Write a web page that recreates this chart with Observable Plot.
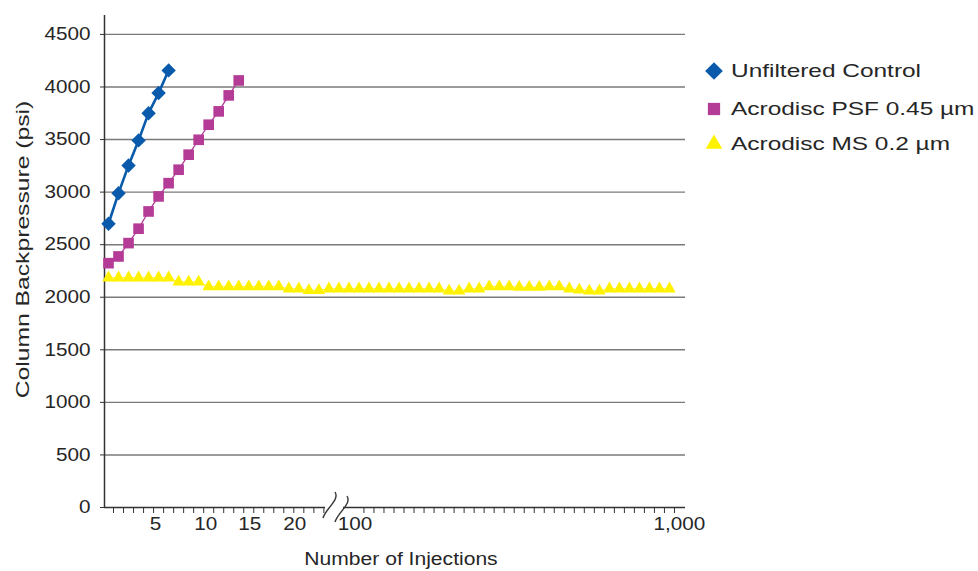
<!DOCTYPE html>
<html><head><meta charset="utf-8">
<script src="https://cdn.jsdelivr.net/npm/d3@7"></script>
<script src="https://cdn.jsdelivr.net/npm/@observablehq/plot@0.6"></script>
<style>
html,body{margin:0;padding:0;background:#fff;}
#wrap{position:relative;width:978px;height:571px;font-family:"Liberation Sans",Arial,Helvetica,sans-serif;color:#262626;}
.item{position:absolute;left:700px;height:28px;display:flex;align-items:center;}
.item svg{width:28px;height:28px;display:block;}
.item span{position:absolute;left:31px;top:50%;transform:translateY(-50%) scaleX(1.32);transform-origin:left center;white-space:nowrap;font-size:18.5px;line-height:1;}
</style></head><body><div id="wrap"></div>
<script>
// ---- data ----
const seriesNames = ["Unfiltered Control", "Acrodisc PSF 0.45 µm", "Acrodisc MS 0.2 µm"];
const seriesColors = ["#0a5aab", "#b43c96", "#fff200"];
const unfiltered = [2699, 2990, 3254, 3492, 3751, 3942, 4158];
const psf = [2324, 2388, 2515, 2652, 2816, 2959, 3085, 3213, 3356, 3498, 3641, 3768, 3920, 4062];
const ms = [2185, 2185, 2185, 2185, 2185, 2185, 2185,
  2145, 2145, 2145,
  2100, 2100, 2100, 2100, 2100, 2100, 2100, 2100,
  2080, 2080,
  2065, 2065,
  2080, 2080, 2080, 2080, 2080, 2080, 2080, 2080, 2080, 2080, 2080, 2080,
  2060, 2060,
  2080, 2080,
  2100, 2100, 2100,
  2095, 2095, 2095,
  2100, 2100,
  2080,
  2070,
  2060, 2060,
  2080, 2080, 2080, 2080, 2080, 2080, 2080];
const yTicks = [0, 500, 1000, 1500, 2000, 2500, 3000, 3500, 4000, 4500];
const xTickLabels = ["5", "10", "15", "20", "100", "1,000"];
const xTickLabelPos = [5.7, 10.7, 15.1, 19.6, 25.6, 58];
const breakPos = 23.66;
const breakSpan = [23, 26];
const xDomain = [0.6, 58.6];
const yDomain = [0, 4680];
const yTitle = "Column Backpressure (psi)";
const xTitle = "Number of Injections";

// ---- derived tables ----
const toRows = arr => arr.map((v, k) => ({i: k + 1, v}));
const blueRows = toRows(unfiltered), pinkRows = toRows(psf), yellowRows = toRows(ms);
const xMinorTicks = d3.range(1.5, 58, 1).filter(t => t < breakSpan[0] || t > breakSpan[1]);
const labelMap = new Map(xTickLabelPos.map((p, k) => [p, xTickLabels[k]]));

function breakMark(index, scales) {
  const cx = scales.x(breakPos), cy = scales.y(0);
  const g = d3.create("svg:g");
  g.append("rect").attr("x", cx - 10).attr("y", cy - 3).attr("width", 18).attr("height", 6).attr("fill", "#fff");
  [[0, 0], [12, 4]].forEach(([ox, oy]) => {
    const x0 = cx + ox, y0 = cy - 15 + oy;
    g.append("path")
      .attr("d", `M${x0},${y0} C${x0 + 5},${y0 + 8} ${x0 - 9},${y0 + 16} ${x0 - 12},${y0 + 26}`)
      .attr("fill", "none").attr("stroke", "#333").attr("stroke-width", 1.4);
  });
  return g.node();
}

const chart = Plot.plot({
  width: 978, height: 571,
  marginLeft: 104, marginRight: 293, marginTop: 15, marginBottom: 64,
  style: {fontFamily: "'Liberation Sans', Arial, Helvetica, sans-serif", color: "#262626", background: "#fff"},
  x: {domain: xDomain, axis: null},
  y: {domain: yDomain, axis: null},
  marks: [
    Plot.ruleY(yTicks.filter(d => d > 0), {stroke: "#7a7a7a", strokeWidth: 1.4}),
    Plot.axisY({ticks: yTicks, tickSize: 4, tickPadding: 10, fontSize: 18, label: null, stroke: "#333", tickFormat: d => String(d)}),
    Plot.ruleX([xDomain[0]], {stroke: "#333", strokeWidth: 1.5}),
    Plot.ruleY([0], {stroke: "#333", strokeWidth: 1.5}),
    Plot.axisX({ticks: xMinorTicks, tickSize: 6, tickFormat: () => "", label: null, stroke: "#333"}),
    Plot.axisX({ticks: xTickLabelPos, tickSize: 0, tickPadding: 10, fontSize: 18, label: null, tickFormat: d => labelMap.get(d)}),
    breakMark,
    Plot.line(yellowRows, {x: "i", y: "v", stroke: seriesColors[2], strokeWidth: 1}),
    Plot.dot(yellowRows, {x: "i", y: "v", symbol: "triangle", r: 4.65, fill: seriesColors[2], stroke: "none"}),
    Plot.line(pinkRows, {x: "i", y: "v", stroke: seriesColors[1], strokeWidth: 1.3}),
    Plot.dot(pinkRows, {x: "i", y: "v", symbol: "square", r: 6, fill: seriesColors[1], stroke: "none"}),
    Plot.line(blueRows, {x: "i", y: "v", stroke: seriesColors[0], strokeWidth: 2.6}),
    Plot.dot(blueRows, {x: "i", y: "v", symbol: "diamond2", r: 6.5, fill: seriesColors[0], stroke: "none"}),
    Plot.text([yTitle], {frameAnchor: "left", textAnchor: "middle", rotate: -90, dx: -82, dy: -12, fontSize: 19, fill: "#262626"}),
    Plot.text([xTitle], {frameAnchor: "bottom", textAnchor: "middle", dx: 6, dy: 57, fontSize: 18.5, fill: "#262626"})
  ]
});

function stretch(nodes, s) {
  nodes.forEach(t => {
    const tr = t.getAttribute("transform");
    if (tr) t.setAttribute("transform", tr + ` scale(${s},1)`);
    else {
      const x = +t.getAttribute("x") || 0, y = +t.getAttribute("y") || 0;
      t.removeAttribute("x"); t.removeAttribute("y");
      t.setAttribute("transform", `translate(${x},${y}) scale(${s},1)`);
    }
  });
}
const texts = Array.from(chart.querySelectorAll("text"));
stretch(texts.filter(t => t.textContent === yTitle), 1.3);
stretch(texts.filter(t => t.textContent === xTitle), 1.14);
stretch(texts.filter(t => t.textContent !== yTitle && t.textContent !== xTitle && t.textContent !== ""), 1.15);

const wrap = document.getElementById("wrap");
wrap.appendChild(chart);

// ---- legend ----
const legendSymbols = [d3.symbol(d3.symbolDiamond2, 200), d3.symbol(d3.symbolSquare, 150), d3.symbol(d3.symbolTriangle, 120)];
const legendCenters = [71, 109, 144];
seriesNames.forEach((name, k) => {
  const item = d3.select(wrap).append("div").attr("class", "item").style("top", (legendCenters[k] - 14) + "px");
  item.append("svg").attr("viewBox", "-14 -14 28 28")
    .append("path").attr("d", legendSymbols[k]()).attr("fill", seriesColors[k]);
  item.append("span").text(name);
});
</script></body></html>
